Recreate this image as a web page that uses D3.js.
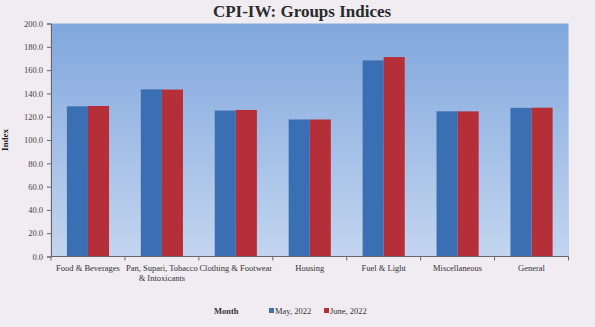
<!DOCTYPE html>
<html><head><meta charset="utf-8">
<script src="https://cdn.jsdelivr.net/npm/d3@7"></script>
<style>
html,body{margin:0;padding:0;background:#f1ecf2;}
svg{display:block;}
text{font-family:"Liberation Serif","DejaVu Serif",serif;}
</style></head>
<body><svg id="c" width="595" height="327"></svg>
<script>
const categories = ["Food & Beverages", "Pan, Supari, Tobacco & Intoxicants", "Clothing & Footwear", "Housing", "Fuel & Light", "Miscellaneous", "General"];
const categoryLines = [["Food & Beverages"], ["Pan, Supari, Tobacco", "& Intoxicants"], ["Clothing & Footwear"], ["Housing"], ["Fuel & Light"], ["Miscellaneous"], ["General"]];
const seriesNames = ["May, 2022", "June, 2022"];
const may2022 = [128.9, 143.5, 125.3, 117.6, 168.3, 124.6, 127.6];
const june2022 = [129.2, 143.3, 125.8, 117.6, 171.2, 124.6, 127.7];
const yTicks = [0, 20, 40, 60, 80, 100, 120, 140, 160, 180, 200];
const title = "CPI-IW: Groups Indices";
const yTitle = "Index";
const legendTitle = "Month";

const colors = ["#3b6fb3", "#b52f38"];
const svg = d3.select("#c");
const m = {l: 51, r: 26.5, t: 23.5, b: 70.5};
const W = 595, H = 327;
const x = d3.scaleBand().domain(categories).range([m.l, W - m.r]).paddingInner(0.43).paddingOuter(0.215);
const xb = d3.scaleBand().domain(categories).range([m.l, W - m.r]);
const xs = d3.scaleBand().domain(seriesNames).range([0, x.bandwidth()]);
const y = d3.scaleLinear().domain([0, 200]).range([H - m.b, m.t]);

const defs = svg.append("defs");
const g = defs.append("linearGradient").attr("id", "bg").attr("x1", 0).attr("y1", 0).attr("x2", 0).attr("y2", 1);
g.append("stop").attr("offset", 0).attr("stop-color", "#80a7dd");
g.append("stop").attr("offset", 1).attr("stop-color", "#c3d5ef");

svg.append("rect").attr("x", m.l).attr("y", m.t).attr("width", W - m.r - m.l).attr("height", H - m.b - m.t)
  .attr("fill", "url(#bg)").attr("stroke", "#b9cbe6").attr("stroke-width", 0.8);

const data = [may2022, june2022];
seriesNames.forEach((s, si) => {
  svg.append("g").selectAll("rect").data(categories).join("rect")
    .attr("x", d => x(d) + xs(s))
    .attr("y", (d, i) => y(data[si][i]))
    .attr("width", xs.bandwidth())
    .attr("height", (d, i) => y(0) - y(data[si][i]))
    .attr("fill", colors[si]);
});

// axes
const ya = svg.append("g").attr("transform", `translate(${m.l},0)`)
  .call(d3.axisLeft(y).tickValues(yTicks).tickSize(4).tickFormat(d3.format(".1f")));
ya.select(".domain").attr("stroke", "#666");
ya.selectAll(".tick line").attr("stroke", "#666");
ya.selectAll("text").attr("font-size", 8.5).attr("fill", "#444").attr("dx", -1);

const xa = svg.append("g").attr("transform", `translate(0,${y(0)})`);
xa.append("line").attr("x1", m.l).attr("x2", W - m.r).attr("stroke", "#666");
xa.selectAll("line.t").data(categories).join("line").attr("class", "t")
  .attr("x1", d => xb(d) + xb.bandwidth()).attr("x2", d => xb(d) + xb.bandwidth())
  .attr("y1", 0).attr("y2", 4).attr("stroke", "#666");
xa.append("line").attr("x1", m.l).attr("x2", m.l).attr("y1", 0).attr("y2", 4).attr("stroke", "#666");
categoryLines.forEach((lines, i) => {
  lines.forEach((ln, j) => {
    xa.append("text").attr("x", xb(categories[i]) + xb.bandwidth() / 2).attr("y", 14 + j * 10.5)
      .attr("text-anchor", "middle").attr("font-size", 8.5).attr("fill", "#333").text(ln);
  });
});

svg.append("text").attr("x", 302).attr("y", 17).attr("text-anchor", "middle")
  .attr("font-size", 17).attr("font-weight", "bold").attr("fill", "#2a2a2a").text(title);

svg.append("text").attr("transform", "translate(8,140) rotate(-90)").attr("text-anchor", "middle")
  .attr("font-size", 9).attr("font-weight", "bold").attr("fill", "#222").text(yTitle);

const lg = svg.append("g").attr("transform", "translate(0,314)");
lg.append("text").attr("x", 214).attr("y", 0).attr("font-size", 8.5).attr("font-weight", "bold").attr("fill", "#333").text(legendTitle);
const lx = [269, 324];
seriesNames.forEach((s, i) => {
  lg.append("rect").attr("x", lx[i]).attr("y", -6).attr("width", 5).attr("height", 5).attr("fill", colors[i]);
  lg.append("text").attr("x", lx[i] + 6).attr("y", 0).attr("font-size", 8.5).attr("fill", "#333").text(s);
});
</script></body></html>
